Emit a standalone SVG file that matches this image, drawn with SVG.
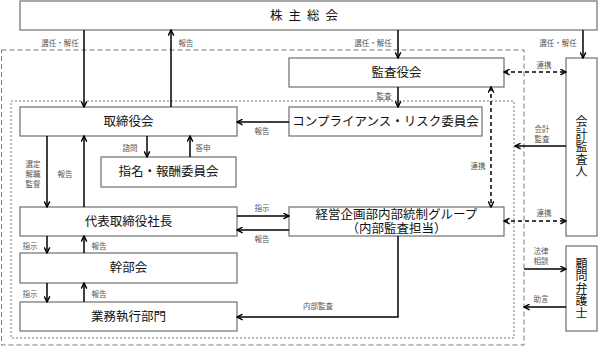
<svg xmlns="http://www.w3.org/2000/svg" width="600" height="346" viewBox="0 0 600 346">
<defs>
<style>
.box{fill:#fff;stroke:#6e6e6e;stroke-width:1.2}
.t{font-family:"Liberation Sans","Noto Sans CJK JP",sans-serif;font-size:12.5px;fill:#111;text-anchor:middle;dominant-baseline:central}
.v{font-family:"Noto Sans CJK JP","Noto Sans",sans-serif;font-size:12px;fill:#111;text-anchor:middle;writing-mode:vertical-rl;letter-spacing:0.5px}
.lb{font-family:"Noto Sans CJK JP","Noto Sans",sans-serif;font-size:7.5px;fill:#555;text-anchor:middle;dominant-baseline:central}
.ln{fill:none;stroke:#000;stroke-width:1.5;marker-end:url(#ah)}
.dl{fill:none;stroke:#000;stroke-width:1.5;stroke-dasharray:4,3;marker-start:url(#ah);marker-end:url(#ah)}
.frame{fill:none;stroke:#777;stroke-width:1}
</style>
<marker id="ah" viewBox="0 0 10 10" refX="9" refY="5" markerWidth="7" markerHeight="7" markerUnits="userSpaceOnUse" orient="auto-start-reverse">
<path d="M1,1 L9,5 L1,9" fill="none" stroke="#000" stroke-width="2"/>
</marker>
</defs>
<rect width="600" height="346" fill="#fff"/>
<g id="frames">
<rect class="frame" x="1.5" y="50" width="522.5" height="295" stroke-dasharray="5,3"/>
<rect class="frame" x="11" y="101" width="503" height="237" stroke-dasharray="2,2"/>
</g>
<g id="n-shareholders"><rect class="box" x="20" y="1" width="577" height="29"/><text class="t" x="307" y="15.5" letter-spacing="6">株主総会</text></g>
<g id="n-board"><rect class="box" x="20" y="107" width="217" height="29"/><text class="t" x="128.5" y="121.5">取締役会</text></g>
<g id="n-auditors"><rect class="box" x="289" y="58" width="215" height="29"/><text class="t" x="396.5" y="72.5">監査役会</text></g>
<g id="n-compliance"><rect class="box" x="289" y="107" width="193" height="29"/><text class="t" x="385.5" y="121.5">コンプライアンス・リスク委員会</text></g>
<g id="n-nomination"><rect class="box" x="101" y="157" width="135" height="30"/><text class="t" x="168.5" y="172">指名・報酬委員会</text></g>
<g id="n-president"><rect class="box" x="20" y="207" width="217" height="29"/><text class="t" x="128.5" y="221.5">代表取締役社長</text></g>
<g id="n-internal"><rect class="box" x="289" y="207" width="215" height="29"/><text class="t" x="396.5" y="214.5">経営企画部内部統制グループ</text><text class="t" x="396.5" y="229">（内部監査担当）</text></g>
<g id="n-executives"><rect class="box" x="20" y="253" width="217" height="30"/><text class="t" x="128.5" y="268">幹部会</text></g>
<g id="n-operations"><rect class="box" x="20" y="302" width="217" height="29"/><text class="t" x="128.5" y="316.5">業務執行部門</text></g>
<g id="n-accountant"><rect class="box" x="566" y="58" width="31" height="178"/>
<text class="v" x="581.5" y="147">会計監査人</text></g>
<g id="n-lawyer"><rect class="box" x="566" y="246" width="31" height="85"/>
<text class="v" x="581.5" y="288.5">顧問弁護士</text></g>
<g id="connectors">
<line class="ln" x1="84" y1="30" x2="84" y2="107"/>
<line class="ln" x1="171" y1="107" x2="171" y2="30"/>
<line class="ln" x1="398" y1="30" x2="398" y2="58"/>
<line class="ln" x1="583" y1="30" x2="583" y2="58"/>
<line class="dl" x1="504" y1="72" x2="566" y2="72"/>
<line class="ln" x1="398" y1="87" x2="398" y2="107"/>
<line class="ln" x1="289" y1="122" x2="237" y2="122"/>
<line class="dl" x1="491" y1="87" x2="491" y2="207"/>
<line class="ln" x1="566" y1="146" x2="515" y2="146"/>
<line class="ln" x1="47" y1="136" x2="47" y2="207"/>
<line class="ln" x1="84" y1="207" x2="84" y2="136"/>
<line class="ln" x1="147" y1="136" x2="147" y2="157"/>
<line class="ln" x1="190" y1="157" x2="190" y2="136"/>
<line class="ln" x1="237" y1="216" x2="289" y2="216"/>
<line class="ln" x1="289" y1="230" x2="237" y2="230"/>
<line class="dl" x1="504" y1="221" x2="566" y2="221"/>
<line class="ln" x1="47" y1="236" x2="47" y2="253"/>
<line class="ln" x1="84" y1="253" x2="84" y2="236"/>
<line class="ln" x1="47" y1="283" x2="47" y2="302"/>
<line class="ln" x1="84" y1="302" x2="84" y2="283"/>
<path class="ln" d="M398,236 V317 H237"/>
<line class="ln" x1="524" y1="269" x2="566" y2="269"/>
<line class="ln" x1="566" y1="307" x2="524" y2="307"/>
</g>
<g id="labels">
<text class="lb" x="60" y="42">選任・解任</text>
<text class="lb" x="186" y="42">報告</text>
<text class="lb" x="373" y="42">選任・解任</text>
<text class="lb" x="558" y="42">選任・解任</text>
<text class="lb" x="544" y="64">連携</text>
<text class="lb" x="384" y="95">監査</text>
<text class="lb" x="262" y="130">報告</text>
<text class="lb" x="130" y="147">諮問</text>
<text class="lb" x="203" y="147">答申</text>
<text class="lb" x="33" y="163">選定</text>
<text class="lb" x="33" y="173">解職</text>
<text class="lb" x="33" y="183">監督</text>
<text class="lb" x="65" y="173">報告</text>
<text class="lb" x="478" y="165">連携</text>
<text class="lb" x="542" y="128">会計</text>
<text class="lb" x="542" y="138">監査</text>
<text class="lb" x="262" y="207">指示</text>
<text class="lb" x="262" y="238">報告</text>
<text class="lb" x="544" y="212">連携</text>
<text class="lb" x="30" y="245">指示</text>
<text class="lb" x="99" y="245">報告</text>
<text class="lb" x="30" y="293">指示</text>
<text class="lb" x="99" y="293">報告</text>
<text class="lb" x="318" y="305">内部監査</text>
<text class="lb" x="541" y="250">法律</text>
<text class="lb" x="541" y="260">相談</text>
<text class="lb" x="541" y="298">助言</text>
</g>
</svg>
